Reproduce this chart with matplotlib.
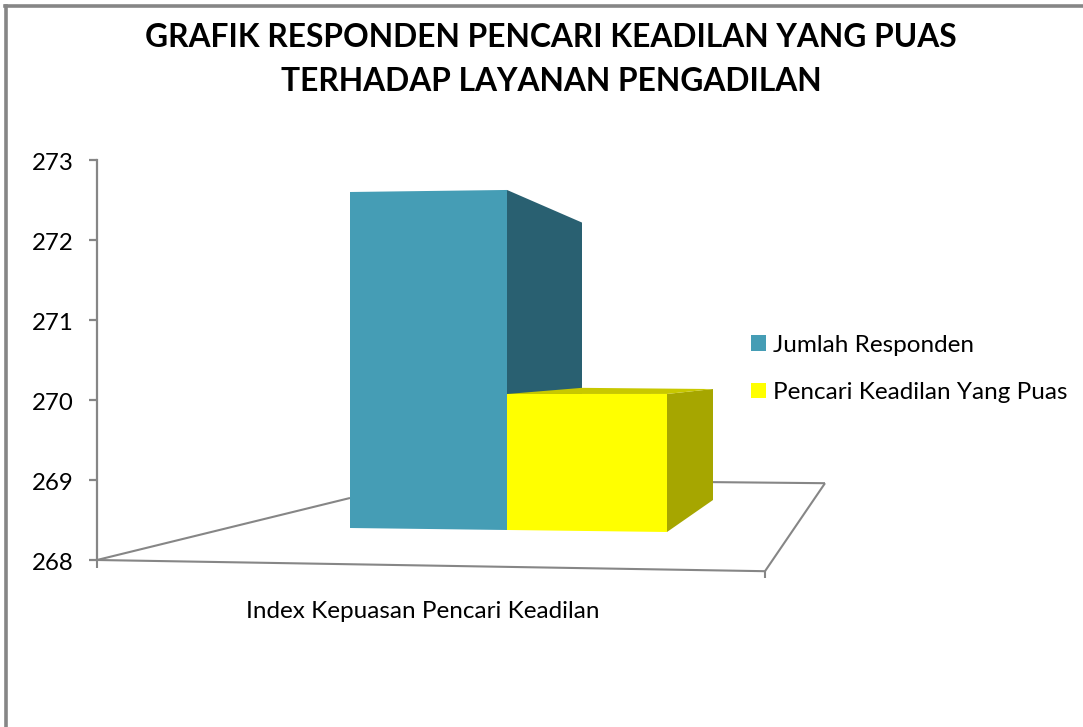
import matplotlib
matplotlib.use("Agg")
import matplotlib.pyplot as plt
from matplotlib.lines import Line2D
from matplotlib.patches import Patch, Polygon
from matplotlib.transforms import ScaledTranslation

plt.rcParams["font.family"] = ["Lato", "DejaVu Sans"]

# data
title = "GRAFIK RESPONDEN PENCARI KEADILAN YANG PUAS\nTERHADAP LAYANAN PENGADILAN"
category = "Index Kepuasan Pencari Keadilan"
series_names = ["Jumlah Responden", "Pencari Keadilan Yang Puas"]
series_values = [272.2, 269.7]
y_ticks = [268, 269, 270, 271, 272, 273]

GRAY = "#868686"
W, H = 1083, 727

fig = plt.figure(figsize=(W / 100, H / 100), dpi=100)
fig.patch.set_facecolor("white")

# plot area: value axis runs from 160 to 560 px, floor front edge from 97 to 765 px
ax = fig.add_axes([97 / W, 1 - 560 / H, (765 - 97) / W, 400 / H])
ax.set_xlim(97, 765)
ax.set_ylim(268, 273)
ax.patch.set_alpha(0)
for side in ["top", "right", "bottom"]:
    ax.spines[side].set_visible(False)
ax.spines["left"].set_color(GRAY)
ax.spines["left"].set_linewidth(1.6)
ax.set_xticks([])
ax.set_yticks(y_ticks)
ax.tick_params(axis="y", length=6, width=1.6, color=GRAY, labelsize=17.3, pad=11)
# labels sit a little under their ticks in the reference
for label in ax.get_yticklabels():
    label.set_transform(label.get_transform() + ScaledTranslation(0, -2 / 100, fig.dpi_scale_trans))


def floor_line(xs, ys):
    ax.plot(xs, ys, color=GRAY, lw=1.5, clip_on=False, zorder=1, solid_capstyle="butt")


# floor of the fake 3d box
floor_line([97, 765], [268, 267.86])
floor_line([765, 825], [267.86, 268.96])
floor_line([700, 825], [268.975, 268.96])
floor_line([97, 350], [268, 268.775])
# x axis ticks hanging under the floor
floor_line([97, 97], [268, 267.9])
floor_line([765, 765], [267.86, 267.77])


def face(points, color, z):
    ax.add_patch(Polygon(points, closed=True, facecolor=color, edgecolor="none",
                         clip_on=False, zorder=z))


def bar(value, edges, front, side, top=None, z=2):
    # edges: (x, floor level, perspective factor) for left, right, back right, back left
    h = value - 268
    floor_pts = [(x, b) for x, b, k in edges]
    top_pts = [(x, b + h * k) for x, b, k in edges]
    face([floor_pts[1], top_pts[1], top_pts[2], floor_pts[2]], side, z)
    if top is not None:
        face(top_pts, top, z + 0.1)
    face([floor_pts[0], top_pts[0], top_pts[1], floor_pts[1]], front, z + 0.2)


bar(series_values[0],
    [(350, 268.40, 1.0), (507, 268.375, 1.012), (582, 268.69, 0.84), (582, 268.69, 0.84)],
    "#459DB5", "#296071")
bar(series_values[1],
    [(507, 268.375, 1.0), (667, 268.35, 1.015), (713, 268.75, 0.816), (582, 268.69, 0.86)],
    "#FFFF00", "#A6A600", "#C8C800", z=3)

# chart border, only top and left are inside the picture
fig.add_artist(Line2D([6 / W, 6 / W], [0, 1 - 6 / H], color=GRAY, lw=2.6))
fig.add_artist(Line2D([5 / W, 1], [1 - 6 / H, 1 - 6 / H], color=GRAY, lw=2.6))

fig.text(551 / W, 1 - 59.5 / H, title, ha="center", va="center", fontsize=22.9,
         fontweight="bold", color="black", linespacing=1.6)
fig.text(423 / W, 1 - 611 / H, category, ha="center", va="center", fontsize=17.5)

handles = [Patch(facecolor=c, edgecolor="none") for c in ["#459DB5", "#FFFF00"]]
fig.legend(handles, series_names, loc="center left", bbox_to_anchor=(751 / W, 1 - 369 / H),
           frameon=False, fontsize=17.5, borderpad=0, borderaxespad=0, labelspacing=1.08,
           handlelength=0.62, handleheight=0.62, handletextpad=0.27)

fig.savefig("out.png", dpi=100)
